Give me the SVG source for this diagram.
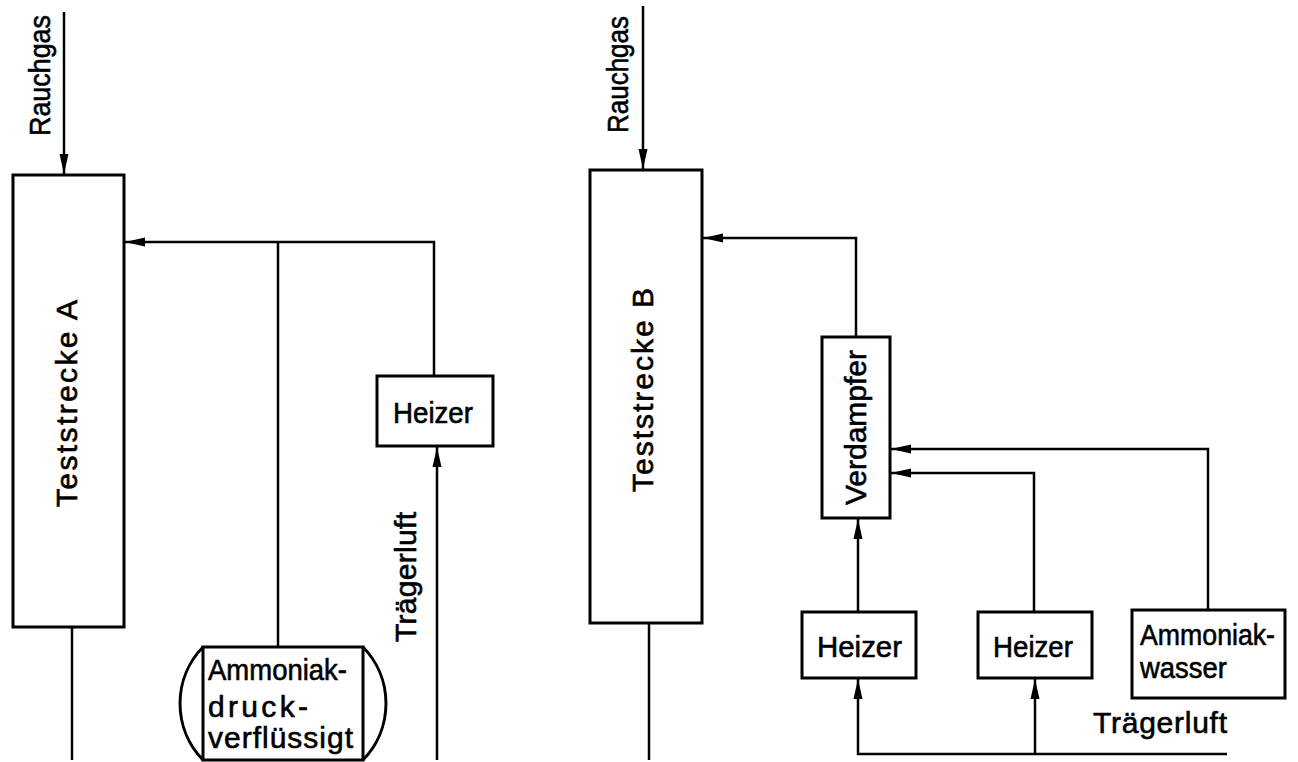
<svg xmlns="http://www.w3.org/2000/svg" width="1298" height="762" viewBox="0 0 1298 762">
<style>
.box{fill:#fff;stroke:#000;stroke-width:3}
.ln{fill:none;stroke:#000;stroke-width:2.5}
.t{font-family:"Liberation Sans","DejaVu Sans",sans-serif;font-size:30px;fill:#000;stroke:#000;stroke-width:0.6}
</style>
<defs>
<marker id="ah" markerWidth="20" markerHeight="10" refX="20" refY="5" orient="auto" markerUnits="userSpaceOnUse">
<path d="M0,0.5 L20,5 L0,9.5 z" fill="#000"/>
</marker>
</defs>
<rect width="1298" height="762" fill="#fff"/>
<g id="connectors">
<path class="ln" d="M64,12 V174" marker-end="url(#ah)"/>
<path class="ln" d="M434,376 V242 H125" marker-end="url(#ah)"/>
<path class="ln" d="M278,647 V242"/>
<path class="ln" d="M437,760 V447" marker-end="url(#ah)"/>
<path class="ln" d="M72,627 V760"/>
<path class="ln" d="M643,6 V169" marker-end="url(#ah)"/>
<path class="ln" d="M856,337 V238 H703" marker-end="url(#ah)"/>
<path class="ln" d="M649,623 V760"/>
<path class="ln" d="M858,612 V519" marker-end="url(#ah)"/>
<path class="ln" d="M1034,612 V473 H891" marker-end="url(#ah)"/>
<path class="ln" d="M1208,609 V449 H891" marker-end="url(#ah)"/>
<path class="ln" d="M1227,754 H858 V679" marker-end="url(#ah)"/>
<path class="ln" d="M1035,754 V679" marker-end="url(#ah)"/>
</g>
<g id="label-rauchgas-a"><text class="t" transform="translate(50,136) rotate(-90)" textLength="121" lengthAdjust="spacingAndGlyphs">Rauchgas</text></g>
<g id="teststrecke-a">
<rect class="box" x="13" y="175" width="111" height="452"/>
<text class="t" transform="translate(77,507) rotate(-90)" textLength="207" lengthAdjust="spacing">Teststrecke A</text>
</g>
<g id="heizer-a">
<rect class="box" x="377" y="376" width="116" height="70"/>
<text class="t" x="393" y="423" textLength="80" lengthAdjust="spacingAndGlyphs">Heizer</text>
</g>
<g id="label-traegerluft-a"><text class="t" transform="translate(416,642) rotate(-90)" textLength="130" lengthAdjust="spacing">Trägerluft</text></g>
<g id="ammoniak-tank">
<path class="box" d="M203,647 A81,81 0 0 0 203,760 M363,647 A81,81 0 0 1 363,760"/>
<rect class="box" x="203" y="647" width="160" height="113"/>
<text class="t" x="208" y="680" textLength="139" lengthAdjust="spacingAndGlyphs">Ammoniak-</text>
<text class="t" x="208" y="717" textLength="100" lengthAdjust="spacing">druck-</text>
<text class="t" x="208" y="748" textLength="145" lengthAdjust="spacing">verflüssigt</text>
</g>
<g id="label-rauchgas-b"><text class="t" transform="translate(628,133) rotate(-90)" textLength="117" lengthAdjust="spacingAndGlyphs">Rauchgas</text></g>
<g id="teststrecke-b">
<rect class="box" x="590" y="170" width="112" height="453"/>
<text class="t" transform="translate(653,492) rotate(-90)" textLength="204" lengthAdjust="spacing">Teststrecke B</text>
</g>
<g id="verdampfer">
<rect class="box" x="822" y="337" width="68" height="181"/>
<text class="t" transform="translate(866,505) rotate(-90)" textLength="155" lengthAdjust="spacingAndGlyphs">Verdampfer</text>
</g>
<g id="heizer-b1">
<rect class="box" x="802" y="612" width="114" height="66"/>
<text class="t" x="817" y="657" textLength="85" lengthAdjust="spacingAndGlyphs">Heizer</text>
</g>
<g id="heizer-b2">
<rect class="box" x="978" y="612" width="114" height="66"/>
<text class="t" x="993" y="657" textLength="80" lengthAdjust="spacingAndGlyphs">Heizer</text>
</g>
<g id="ammoniakwasser">
<rect class="box" x="1132" y="610" width="153" height="88"/>
<text class="t" x="1140" y="645" textLength="135" lengthAdjust="spacingAndGlyphs">Ammoniak-</text>
<text class="t" x="1140" y="678" textLength="87" lengthAdjust="spacingAndGlyphs">wasser</text>
</g>
<g id="label-traegerluft-b"><text class="t" x="1093" y="733" textLength="134" lengthAdjust="spacing">Trägerluft</text></g>
</svg>
